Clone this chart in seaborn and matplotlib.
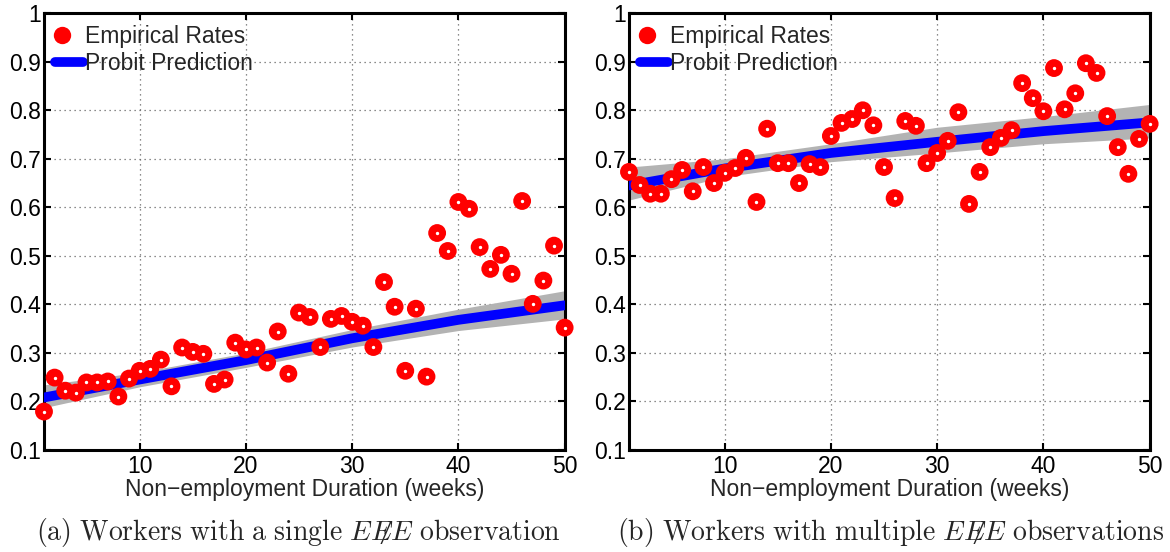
import matplotlib
matplotlib.use("Agg")
import matplotlib.pyplot as plt
from matplotlib.lines import Line2D
from matplotlib.legend_handler import HandlerTuple
import seaborn as sns

weeks = list(range(1, 51))

single_rates = [0.179, 0.249, 0.222, 0.218, 0.239, 0.239, 0.241, 0.210, 0.247, 0.263,
                0.267, 0.286, 0.231, 0.311, 0.302, 0.298, 0.236, 0.245, 0.321, 0.307,
                0.311, 0.280, 0.344, 0.257, 0.383, 0.374, 0.312, 0.370, 0.376, 0.364,
                0.356, 0.312, 0.446, 0.395, 0.263, 0.391, 0.251, 0.547, 0.510, 0.611,
                0.597, 0.518, 0.473, 0.502, 0.463, 0.613, 0.401, 0.449, 0.521, 0.352]

multiple_rates = [0.673, 0.646, 0.628, 0.628, 0.658, 0.677, 0.633, 0.683, 0.650, 0.671,
                  0.681, 0.702, 0.611, 0.762, 0.691, 0.691, 0.650, 0.689, 0.683, 0.747,
                  0.774, 0.782, 0.800, 0.769, 0.683, 0.619, 0.778, 0.768, 0.691, 0.712,
                  0.737, 0.796, 0.607, 0.673, 0.724, 0.743, 0.759, 0.856, 0.825, 0.798,
                  0.887, 0.802, 0.835, 0.897, 0.877, 0.788, 0.724, 0.669, 0.741, 0.772]

# probit prediction and band, read at a few weeks
pred_weeks = [1, 10, 20, 30, 40, 50]
single_pred = [0.208, 0.245, 0.285, 0.330, 0.368, 0.398]
single_lo = [0.187, 0.230, 0.270, 0.312, 0.346, 0.370]
single_hi = [0.234, 0.260, 0.300, 0.348, 0.390, 0.428]
multiple_pred = [0.645, 0.680, 0.712, 0.735, 0.757, 0.775]
multiple_lo = [0.615, 0.663, 0.694, 0.712, 0.731, 0.743]
multiple_hi = [0.683, 0.700, 0.731, 0.765, 0.787, 0.812]

captions = [r"$\mathrm{(a)\ Workers\ with\ a\ single\ }EE\not E\mathrm{\ observation}$",
            r"$\mathrm{(b)\ Workers\ with\ multiple\ }EE\not E\mathrm{\ observations}$"]

sns.set_style("white")
plt.rcParams["font.family"] = ["Liberation Sans", "DejaVu Sans"]
plt.rcParams["mathtext.fontset"] = "cm"

fig = plt.figure(figsize=(11.7, 5.52), dpi=100)
ax1 = fig.add_axes([0.0376, 0.185, 0.445, 0.791])
ax2 = fig.add_axes([0.5376, 0.185, 0.445, 0.791])

panels = [(ax1, single_rates, single_pred, single_lo, single_hi),
          (ax2, multiple_rates, multiple_pred, multiple_lo, multiple_hi)]

for i, (ax, rates, pred, lo, hi) in enumerate(panels):
    ax.fill_between(pred_weeks, lo, hi, color="#b3b3b3", lw=0, zorder=2)
    sns.lineplot(x=pred_weeks, y=pred, color="blue", lw=7, ax=ax, zorder=3)
    sns.scatterplot(x=weeks, y=rates, color="red", s=165, edgecolor="none",
                    ax=ax, zorder=5, clip_on=False)
    ax.scatter(weeks, rates, s=2, color="white", zorder=6, clip_on=False)

    ax.set_xlim(1, 50)
    ax.set_ylim(0.1, 1)
    ax.set_xticks([10, 20, 30, 40, 50])
    ax.set_yticks([0.1, 0.2, 0.3, 0.4, 0.5, 0.6, 0.7, 0.8, 0.9, 1.0])
    ax.set_yticklabels(["0.1", "0.2", "0.3", "0.4", "0.5", "0.6", "0.7", "0.8", "0.9", "1"])
    ax.grid(True, color="#666666", linestyle=(0, (1, 3)), lw=0.9)
    ax.set_axisbelow(True)
    ax.tick_params(direction="in", length=5, width=1.5, labelsize=16.5, pad=4,
                   top=True, right=True, bottom=True, left=True, colors="black")
    ax.tick_params(axis="y", pad=2)
    for sp in ax.spines.values():
        sp.set_visible(True)
        sp.set_color("black")
        sp.set_linewidth(2.2)
    ax.set_xlabel("Non\u2212employment Duration (weeks)", fontsize=16.5, labelpad=0)
    ax.set_ylabel("")

    dot = (Line2D([], [], ls="none", marker="o", ms=12.5, color="red", mec="none"),
           Line2D([], [], ls="none", marker="o", ms=1.5, color="white", mec="none"))
    line = Line2D([], [], color="blue", lw=7)
    ax.legend([dot, line], ["Empirical Rates", "Probit Prediction"],
              handler_map={tuple: HandlerTuple(ndivide=None, pad=0)},
              loc="upper left", frameon=False, fontsize=16.5, handlelength=1.2,
              handletextpad=0.1, labelspacing=0.2, borderaxespad=0.3,
              borderpad=0.2)

fig.text(0.2547, 0.035, captions[0], ha="center", va="center", fontsize=20)
fig.text(0.7607, 0.035, captions[1], ha="center", va="center", fontsize=20)

fig.savefig("out.png", dpi=100)
